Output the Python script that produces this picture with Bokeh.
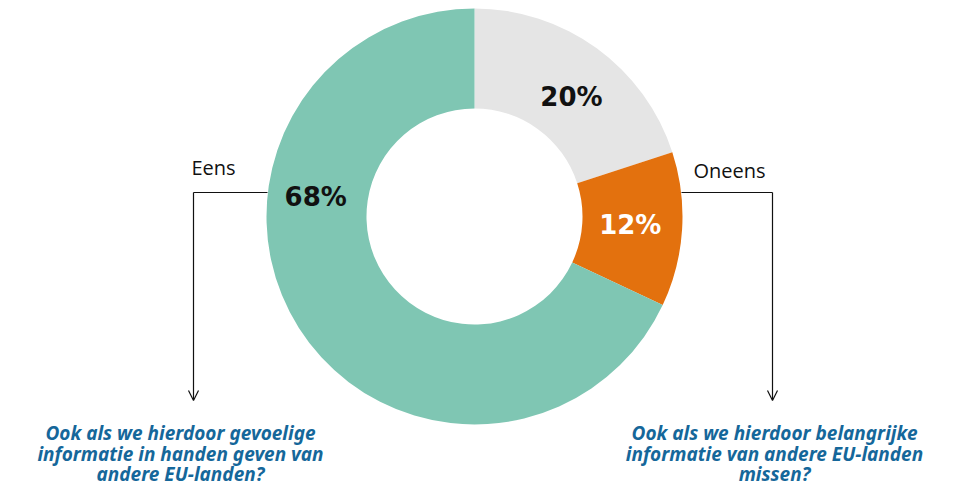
import math
from bokeh.plotting import figure
from bokeh.models import Range1d, ColumnDataSource, Arrow, OpenHead
from bokeh.core.properties import value
from bokeh.embed import file_html
from bokeh.resources import INLINE

# ---- data ----
categories = ["Geen mening", "Oneens", "Eens"]
values = [20, 12, 68]
pct_labels = ["20%", "12%", "68%"]
slice_colors = ["#E5E5E5", "#E3710E", "#7FC6B3"]
pct_colors = ["#111111", "#FFFFFF", "#111111"]
label_angle_deg = [51, -3, 173]   # where the % label sits in each slice
label_radius = [154, 156, 160]
question_left = ["Ook als we hierdoor gevoelige", "informatie in handen geven van", "andere EU-landen?"]
question_right = ["Ook als we hierdoor belangrijke", "informatie van andere EU-landen", "missen?"]

W, H = 946, 486
p = figure(width=W, height=H, output_backend="svg", toolbar_location=None,
           x_range=Range1d(0, W), y_range=Range1d(0, H), min_border=0)
p.axis.visible = False
p.grid.visible = False
p.outline_line_color = None
p.background_fill_color = "white"

def Y(sy):  # screen y -> data y
    return H - sy

cx, cy = 474, Y(216)
r_out, r_in = 208, 108

total = sum(values)
starts, ends = [], []
cum = 0
for v in values:
    starts.append(math.pi / 2 - cum / total * 2 * math.pi)
    cum += v
    ends.append(math.pi / 2 - cum / total * 2 * math.pi)

src = ColumnDataSource(dict(start=starts, end=ends, color=slice_colors))
p.annular_wedge(x=cx, y=cy, inner_radius=r_in, outer_radius=r_out,
                start_angle="start", end_angle="end", direction="clock",
                color="color", line_color="white", line_width=0, source=src)

lx = [cx + r * math.cos(math.radians(a)) for r, a in zip(label_radius, label_angle_deg)]
ly = [cy + r * math.sin(math.radians(a)) for r, a in zip(label_radius, label_angle_deg)]
p.text(x=lx, y=ly, text=pct_labels, text_color=pct_colors,
       text_font=value("DejaVu Sans"), text_font_style="bold", text_font_size="26px",
       text_align="center", text_baseline="middle")

# leader lines
line_y = Y(192)
p.line(x=[267, 193], y=[line_y, line_y], line_color="#111111", line_width=1.2)
p.add_layout(Arrow(end=OpenHead(size=10, line_width=1.2, line_color="#111111"),
                   x_start=193, y_start=line_y, x_end=193, y_end=Y(400),
                   line_color="#111111", line_width=1.2))
p.line(x=[681, 772], y=[line_y, line_y], line_color="#111111", line_width=1.2)
p.add_layout(Arrow(end=OpenHead(size=10, line_width=1.2, line_color="#111111"),
                   x_start=772, y_start=line_y, x_end=772, y_end=Y(400),
                   line_color="#111111", line_width=1.2))

p.text(x=[191], y=[Y(167)], text=[categories[2]], text_color="#111111",
       text_font=value("Open Sans"), text_font_size="20px",
       text_align="left", text_baseline="middle")
p.text(x=[729], y=[Y(170)], text=[categories[1]], text_color="#111111",
       text_font=value("Open Sans"), text_font_size="20px",
       text_align="center", text_baseline="middle")

qy = [Y(432), Y(453), Y(473)]
p.text(x=[180] * 3, y=qy, text=question_left, text_color="#15679A",
       text_font=value("Noto Sans"), text_font_style="bold italic", text_font_size="19px",
       text_align="center", text_baseline="middle")
p.text(x=[774] * 3, y=qy, text=question_right, text_color="#15679A",
       text_font=value("Noto Sans"), text_font_style="bold italic", text_font_size="19px",
       text_align="center", text_baseline="middle")

open("out.html", "w").write(file_html(p, INLINE))
